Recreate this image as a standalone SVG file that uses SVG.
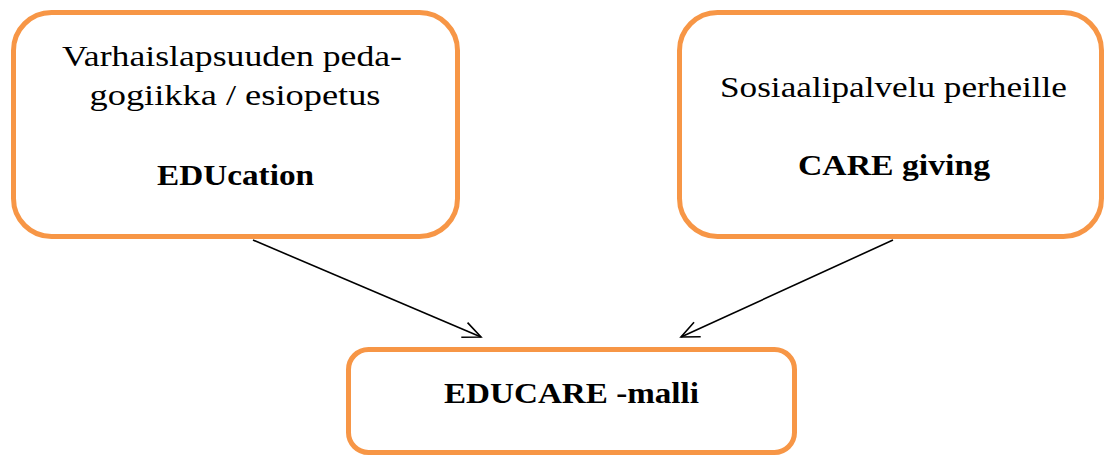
<svg xmlns="http://www.w3.org/2000/svg" width="1104" height="455" viewBox="0 0 1104 455">
<style>
.box{fill:#ffffff;stroke:#F79646;stroke-width:5}
.t{font-family:"Liberation Serif","Times New Roman",serif;font-size:30px;fill:#000;text-anchor:middle}
.b{font-weight:bold}
.c{stroke:#000;stroke-width:1.6;fill:none}
</style>
<defs>
<marker id="arr" markerWidth="24" markerHeight="24" refX="20" refY="10" orient="auto" markerUnits="userSpaceOnUse">
<path d="M2,2 L20,10 L2,18" fill="none" stroke="#000" stroke-width="1.6"/>
</marker>
</defs>
<rect width="1104" height="455" fill="#ffffff"/>
<g id="connectors">
<line class="c" x1="253" y1="240" x2="481" y2="337" marker-end="url(#arr)"/>
<line class="c" x1="893" y1="240" x2="681" y2="337" marker-end="url(#arr)"/>
</g>
<g id="node-education">
<rect class="box" x="13.5" y="12.5" width="444" height="224" rx="38"/>
<text class="t" x="232" y="66" textLength="340" lengthAdjust="spacingAndGlyphs">Varhaislapsuuden peda-</text>
<text class="t" x="235" y="105" textLength="291" lengthAdjust="spacingAndGlyphs">gogiikka / esiopetus</text>
<text class="t b" x="235.5" y="185" textLength="157" lengthAdjust="spacingAndGlyphs">EDUcation</text>
</g>
<g id="node-caregiving">
<rect class="box" x="679.5" y="12.5" width="422" height="224" rx="38"/>
<text class="t" x="893.5" y="97" textLength="347" lengthAdjust="spacingAndGlyphs">Sosiaalipalvelu perheille</text>
<text class="t b" x="894" y="175" textLength="192" lengthAdjust="spacingAndGlyphs">CARE giving</text>
</g>
<g id="node-educare">
<rect class="box" x="348.5" y="349.5" width="446" height="103" rx="20"/>
<text class="t b" x="571.5" y="403" textLength="255" lengthAdjust="spacingAndGlyphs">EDUCARE -malli</text>
</g>
</svg>
